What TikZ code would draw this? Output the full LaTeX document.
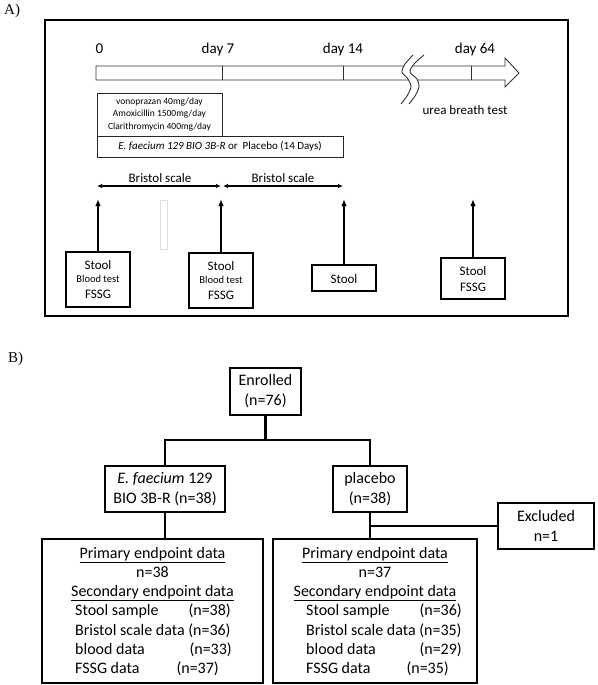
\documentclass[tikz,border=0pt]{standalone}
\usepackage{fontspec}
\setmainfont{Carlito}
\newfontfamily\timesf{Liberation Serif}
\usetikzlibrary{arrows.meta}
\begin{document}
\begin{tikzpicture}[x=1pt,y=-1pt,
  frameA/.style={draw=black, line width=1.7pt, inner sep=0},
  thinbox/.style={draw=black!85, line width=0.9pt, inner sep=0, align=center},
  stoolbox/.style={draw=black, line width=2.5pt, inner sep=0},
  flowbox/.style={draw=black, line width=2.1pt, inner sep=0, align=center, font=\fontsize{16}{20}\selectfont},
  txt/.style={inner sep=0, anchor=base},
  fA/.style={font=\fontsize{15}{18}\selectfont},
  fB/.style={font=\fontsize{13}{15}\selectfont},
  fC/.style={font=\fontsize{10.5}{12}\selectfont},
  fD/.style={font=\fontsize{16}{19}\selectfont},
  fL/.style={font=\timesf\fontsize{15}{18}\selectfont},
  barline/.style={draw=black!80, line width=0.9pt},
  link/.style={line width=2.1pt},
  upar/.style={line width=1.9pt, -{Latex[length=7pt,width=5.5pt]}},
  bris/.style={line width=1.6pt, {Latex[length=5pt,width=4.5pt]}-{Latex[length=5pt,width=4.5pt]}},
]
\useasboundingbox (0,0) rectangle (597,685);

% ---------------- Part A ----------------
\node[txt, fL, anchor=base west] (labA) at (4,15) {A)};
\node[frameA, minimum width=523pt, minimum height=296pt] (frame) at (306.5,168) {};

% timeline bar with arrow head
\draw[barline] (96,66) -- (505,66) -- (505,58) -- (519,73) -- (505,87) -- (505,80) -- (96,80) -- cycle;
\draw[barline] (222,66) -- (222,80);
\draw[barline] (343,66) -- (343,80);
\draw[barline] (471,66) -- (471,80);
% break
\fill[white] plot[smooth] coordinates {(401,104) (407,96) (411,87) (408,79) (402,72) (405,64) (413,55)}
  -- plot[smooth] coordinates {(424,55) (414,64) (410,72) (417,79) (419,87) (415,96) (409,104)} -- cycle;
\draw[black!80, line width=0.9pt] plot[smooth] coordinates {(401,104) (407,96) (411,87) (408,79) (402,72) (405,64) (413,55)};
\draw[black!80, line width=0.9pt] plot[smooth] coordinates {(409,104) (415,96) (419,87) (417,79) (410,72) (414,64) (424,55)};

\node[txt, fA] (t0) at (99.5,54) {0};
\node[txt, fA] (t7) at (218,54) {day 7};
\node[txt, fA] (t14) at (343,54) {day 14};
\node[txt, fA] (t64) at (475,54) {day 64};
\node[txt, fB] (urea) at (465,114) {urea breath test};

\node[thinbox, minimum width=125pt, minimum height=43pt, font=\fontsize{9.5}{12.5}\selectfont] (drug) at (159.5,114.5)
  {vonoprazan 40mg/day\\Amoxicillin 1500mg/day\\Clarithromycin 400mg/day};
\node[thinbox, minimum width=246pt, minimum height=21pt, font=\fontsize{11}{13}\selectfont] (probio) at (220,146.5)
  {\textit{E. faecium 129 BIO 3B-R} or\ \ Placebo (14 Days)};

% Bristol scale arrows
\coordinate (b1) at (97,186);
\coordinate (b2) at (221,186);
\coordinate (b3) at (223,186);
\coordinate (b4) at (343,186);
\draw[bris] (b1) -- (b2);
\draw[bris] (b3) -- (b4);
\node[txt, fB] (bl1) at (160,182) {Bristol scale};
\node[txt, fB] (bl2) at (283,182) {Bristol scale};

% faint mark
\draw[black!12, line width=0.6pt] (160,200) rectangle (167,249);

% sample boxes
\node[stoolbox, minimum width=64pt, minimum height=55pt] (s1) at (98,279.5) {};
\node[stoolbox, minimum width=64pt, minimum height=55pt] (s2) at (221,280.5) {};
\node[stoolbox, minimum width=64pt, minimum height=26pt] (s3) at (344,278) {};
\node[stoolbox, minimum width=64pt, minimum height=41pt] (s4) at (473,278.5) {};
\coordinate (a1) at (98,199);
\coordinate (a2) at (221,199);
\coordinate (a3) at (344,199);
\coordinate (a4) at (473,199);
\draw[upar] (s1.north) -- (a1);
\draw[upar] (s2.north) -- (a2);
\draw[upar] (s3.north) -- (a3);
\draw[upar] (s4.north) -- (a4);

\node[txt, fB] (s1a) at (98,269) {Stool};
\node[txt, fC] (s1b) at (98,282.5) {Blood test};
\node[txt, fB] (s1c) at (98,298) {FSSG};
\node[txt, fB] (s2a) at (221,270) {Stool};
\node[txt, fC] (s2b) at (221,283.5) {Blood test};
\node[txt, fB] (s2c) at (221,299) {FSSG};
\node[txt, fB] (s3a) at (344,283) {Stool};
\node[txt, fB] (s4a) at (473,275) {Stool};
\node[txt, fB] (s4b) at (473,291) {FSSG};

% ---------------- Part B ----------------
\node[txt, fL, anchor=base west] (labB) at (8,362) {B)};

\node[flowbox, minimum width=71pt, minimum height=47pt] (enr) at (265.5,391.5) {Enrolled\\(n=76)};
\node[flowbox, minimum width=120pt, minimum height=46pt] (efa) at (165,489) {\textit{E. faecium} 129\\BIO 3B-R (n=38)};
\node[flowbox, minimum width=74pt, minimum height=46pt] (pla) at (370,489) {placebo\\(n=38)};
\node[flowbox, minimum width=96pt, minimum height=46pt] (exc) at (546,526) {Excluded\\n=1};
\node[flowbox, minimum width=221pt, minimum height=144pt] (lowL) at (152.5,611) {};
\node[flowbox, minimum width=204pt, minimum height=144pt] (lowR) at (375,611) {};

\coordinate (split) at (265.5,440);
\draw[link] (enr.south) -- (split);
\draw[link] (efa.north) |- (split) -| (pla.north);
\draw[link] (efa.south) -- (efa.south |- lowL.north);
\draw[link] (pla.south) -- (pla.south |- lowR.north);
\draw[link] (pla.south |- exc.west) -- (exc.west);

% left result box
\node[txt, fD] (l1) at (152.5,558) {\underline{Primary endpoint data}};
\node[txt, fD] (l2) at (152.5,577) {n=38};
\node[txt, fD] (l3) at (152.5,596.5) {\underline{Secondary endpoint data}};
\node[txt, fD, anchor=base west] (l4) at (75,615.5) {Stool sample};
\node[txt, fD, anchor=base east] (l4n) at (231,615.5) {(n=38)};
\node[txt, fD, anchor=base west] (l5) at (75,635) {Bristol scale data (n=36)};
\node[txt, fD, anchor=base west] (l6) at (75,654) {blood data};
\node[txt, fD, anchor=base east] (l6n) at (232,654) {(n=33)};
\node[txt, fD, anchor=base west] (l7) at (75,673) {FSSG data};
\node[txt, fD, anchor=base east] (l7n) at (219,673) {(n=37)};

% right result box
\node[txt, fD] (r1) at (375,558) {\underline{Primary endpoint data}};
\node[txt, fD] (r2) at (375,577) {n=37};
\node[txt, fD] (r3) at (375,596.5) {\underline{Secondary endpoint data}};
\node[txt, fD, anchor=base west] (r4) at (306,615.5) {Stool sample};
\node[txt, fD, anchor=base east] (r4n) at (462,615.5) {(n=36)};
\node[txt, fD, anchor=base west] (r5) at (306,635) {Bristol scale data (n=35)};
\node[txt, fD, anchor=base west] (r6) at (306,654) {blood data};
\node[txt, fD, anchor=base east] (r6n) at (462,654) {(n=29)};
\node[txt, fD, anchor=base west] (r7) at (306,673) {FSSG data};
\node[txt, fD, anchor=base east] (r7n) at (449,673) {(n=35)};
\end{tikzpicture}
\end{document}
